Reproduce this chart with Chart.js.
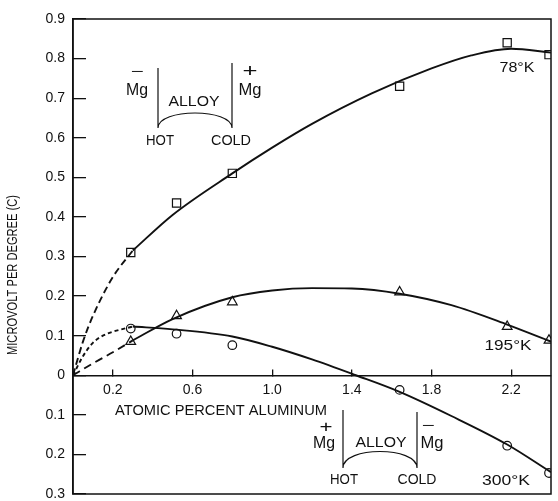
<!DOCTYPE html>
<html>
<head>
<meta charset="utf-8">
<script src="https://cdn.jsdelivr.net/npm/chart.js@4/dist/chart.umd.min.js"></script>
<style>
body{margin:0;background:#fff}
#wrap{width:558px;height:501px}
</style>
</head>
<body>
<div id="wrap"><canvas id="c"></canvas></div>
<script>
// measured points (atomic % Al vs microvolt per degree)
const xPts=[0.29,0.52,0.80,1.64,2.18,2.39]
const k78=[0.31,0.435,0.51,0.73,0.84,0.81]
const k195=[0.085,0.15,0.185,0.21,0.123,0.088]
const k300=[0.118,0.105,0.076,-0.037,-0.178,-0.247]

// drawn curves
const c78dashX=[0,0.05,0.1,0.2,0.3]
const c78dashY=[0,0.085,0.15,0.248,0.315]
const c78X=[0.3,0.5,0.8,1.0,1.2,1.5,1.8,2.0,2.2,2.4]
const c78Y=[0.315,0.405,0.51,0.575,0.635,0.712,0.775,0.808,0.825,0.815]

const c195dashX=[0,0.1,0.2,0.3]
const c195dashY=[0,0.03,0.058,0.088]
const c195X=[0.3,0.5,0.8,1.0,1.2,1.4,1.64,1.9,2.18,2.4]
const c195Y=[0.088,0.142,0.197,0.214,0.22,0.219,0.206,0.177,0.128,0.085]

const c300dashX=[0,0.05,0.1,0.15,0.2,0.3]
const c300dashY=[0,0.048,0.082,0.1,0.11,0.123]
const c300X=[0.3,0.5,0.8,1.0,1.2,1.42,1.64,1.9,2.18,2.4]
const c300Y=[0.123,0.116,0.098,0.072,0.04,0,-0.042,-0.103,-0.175,-0.245]

const xTicks=[0.2,0.6,1.0,1.4,1.8,2.2]

const INK="#111"
const FONT="'Liberation Sans', Arial, sans-serif"

const pts=(xs,ys)=>xs.map((x,i)=>({x:x,y:ys[i]}))

function curve(xs,ys,dash){
return {
type:"line",
data:pts(xs,ys),
borderColor:INK,
borderWidth:1.9,
borderDash:dash||[],
pointRadius:0,
fill:false,
cubicInterpolationMode:"monotone",
clip:0
}
}

function marks(ys,style,r){
return {
type:"scatter",
data:pts(xPts,ys),
pointStyle:style,
pointRadius:r,
pointBackgroundColor:"#fff",
pointBorderColor:INK,
pointBorderWidth:1.2,
showLine:false,
clip:0
}
}

// text squeezed to a measured width
function fitText(ctx,str,cx,cy,w,size,rot){
ctx.save()
ctx.font=size+"px "+FONT
ctx.fillStyle=INK
ctx.textAlign="center"
ctx.textBaseline="middle"
ctx.translate(cx,cy)
if(rot)ctx.rotate(rot)
const m=ctx.measureText(str).width
ctx.scale(w/m,1)
ctx.fillText(str,0,0)
ctx.restore()
}

function cell(ctx,x1,x2,top1,top2,bot,bulge){
ctx.beginPath()
ctx.moveTo(x1,top1)
ctx.lineTo(x1,bot)
ctx.bezierCurveTo(x1,bot-bulge,x2,bot-bulge,x2,bot)
ctx.lineTo(x2,top2)
ctx.stroke()
}

const noPad=s=>{s.paddingTop=0;s.paddingBottom=0;s.paddingLeft=0;s.paddingRight=0}

const extras={
id:"extras",
afterDraw(chart){
const ctx=chart.ctx
const a=chart.chartArea
ctx.save()
ctx.strokeStyle=INK
ctx.lineWidth=1.5
ctx.strokeRect(a.left,a.top,a.right-a.left,a.bottom-a.top)

// axis titles
fitText(ctx,"MICROVOLT PER DEGREE (C)",13,275,160,15,-Math.PI/2)
fitText(ctx,"ATOMIC PERCENT ALUMINUM",221,411,212,14)

// curve labels
fitText(ctx,"78°K",517,68,35,14)
fitText(ctx,"195°K",508,346,47,14)
fitText(ctx,"300°K",506,481,48,14)

// upper cell sketch
ctx.lineWidth=1.2
cell(ctx,158,232,68,63,128,20)
fitText(ctx,"−",137,72,13,14)
fitText(ctx,"Mg",137,91,22,16)
fitText(ctx,"ALLOY",194,102,51,14)
fitText(ctx,"HOT",160,141,28,14)
fitText(ctx,"COLD",231,141,40,14)
fitText(ctx,"+",250,72,15,18)
fitText(ctx,"Mg",250,91,23,16)

// lower cell sketch
cell(ctx,343,417,410,412,468,22)
fitText(ctx,"+",326,428,13,16)
fitText(ctx,"Mg",324,444,22,16)
fitText(ctx,"ALLOY",381,443,51,14)
fitText(ctx,"−",428,426,13,14)
fitText(ctx,"Mg",432,444,23,16)
fitText(ctx,"HOT",344,480,28,14)
fitText(ctx,"COLD",417,480,39,14)
ctx.restore()
}
}

new Chart(document.getElementById("c"),{
data:{
datasets:[
curve(c78dashX,c78dashY,[7,4]),
curve(c78X,c78Y),
curve(c195dashX,c195dashY,[8,5]),
curve(c195X,c195Y),
curve(c300dashX,c300dashY,[4,3]),
curve(c300X,c300Y),
marks(k78,"rect",5.8),
marks(k195,"triangle",5.6),
marks(k300,"circle",4.3)
]
},
options:{
responsive:true,
maintainAspectRatio:false,
animation:false,
layout:{padding:{top:19,right:1,bottom:2,left:0}},
plugins:{legend:{display:false},tooltip:{enabled:false}},
scales:{
x:{
type:"linear",
min:0,max:2.4,
position:{y:0},
afterBuildTicks:s=>{s.ticks=xTicks.map(v=>({value:v}))},
afterFit:s=>{s.height=0;noPad(s)},
grid:{drawOnChartArea:false,drawTicks:true,tickLength:-7,color:INK,lineWidth:1.3},
border:{color:INK,width:1.5},
ticks:{padding:13,color:INK,font:{family:FONT,size:14},maxRotation:0,autoSkip:false,
callback:v=>Number(v).toFixed(1)}
},
y:{
type:"linear",
min:-0.3,max:0.9,
position:"left",
afterFit:s=>{s.width=73;noPad(s)},
grid:{drawOnChartArea:false,drawTicks:true,tickLength:-13,color:INK,lineWidth:1.3},
border:{color:INK,width:1.5},
ticks:{stepSize:0.1,padding:21,color:INK,font:{family:FONT,size:14},
callback:v=>Math.abs(v)<1e-6?"0":Math.abs(v).toFixed(1)}
}
}
},
plugins:[extras]
})
</script>
</body>
</html>
